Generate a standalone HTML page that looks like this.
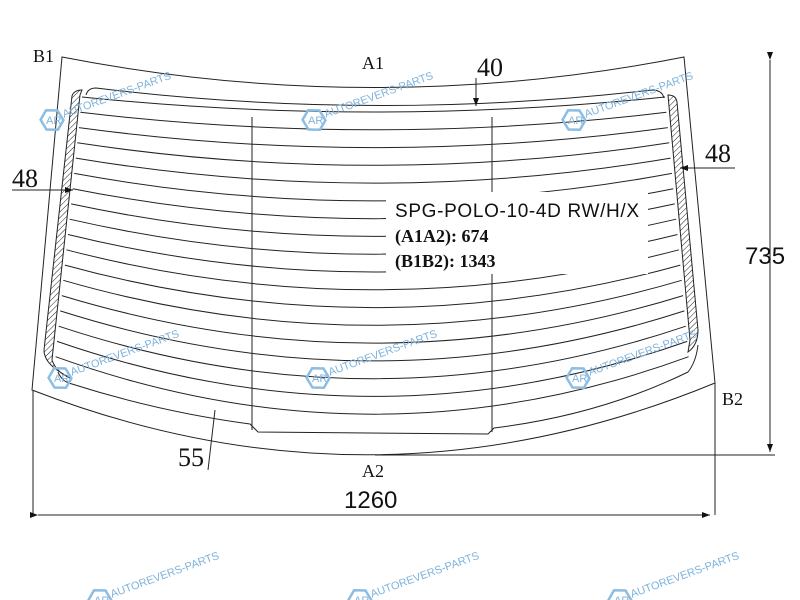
<!DOCTYPE html>
<html><head><style>
html,body{margin:0;padding:0;background:#fff;}
svg{display:block}
.s{font-family:"Liberation Serif",serif;fill:#111}
.a{font-family:"Liberation Sans",sans-serif;fill:#111}
.w{font-family:"Liberation Sans",sans-serif;fill:#7fb3dd;font-size:11px}
</style></head><body>
<svg width="800" height="600" viewBox="0 0 800 600" xmlns="http://www.w3.org/2000/svg">
<defs>
<pattern id="h" width="4" height="4" patternUnits="userSpaceOnUse" patternTransform="rotate(45)">
<line x1="0" y1="0" x2="0" y2="4" stroke="#222" stroke-width="1"/></pattern>
<marker id="ar" markerWidth="8" markerHeight="6" refX="8" refY="3" orient="auto"><path d="M0,0 L8,3 L0,6z" fill="#111"/></marker>
<g id="wm"><polygon points="0,-11 10,-5.5 10,5.5 0,11 -10,5.5 -10,-5.5" fill="none" stroke="#8cbde3" stroke-width="2.5" transform="rotate(30)"/><text class="w" x="-6" y="4" font-size="10">AR</text><text class="w" x="12" y="2" transform="rotate(-20)">AUTOREVERS-PARTS</text></g>
</defs>
<g fill="none" stroke="#222" stroke-width="1">
<path d="M62 57 Q375 118 684 57 L715 383 Q375 523 32 390 Z"/>
<path d="M33 390 V515 M715 383 V515"/>
<path d="M375 455 H775"/>
<path d="M770 60 V452" marker-start="url(#ar)" marker-end="url(#ar)" />
<path d="M38 515 H710" marker-start="url(#ar)" marker-end="url(#ar)"/>
<path d="M72 96 Q74 90 82 90 L80 95 L52 360 Q56 372 70 378 L60 372 Q44 362 44 350 Z" fill="url(#h)"/>
<path d="M668 95 Q676 95 677 102 L698 330 Q698 345 688 352 L690 340 Z" fill="url(#h)"/>
<path d="M86 95 Q88 88 96 88 Q375 122 652 90 Q662 90 664 98"/>
<path d="M58 372 Q62 382 72 384 Q160 412 250 424 L258 432 L488 434 L494 428 Q600 415 688 372 Q696 362 698 345"/>
<path d="M82 97 Q375 127 665 97"/>
<path d="M80.4 112.3 Q375 147.3 666.4 112.3"/>
<path d="M78.9 127.6 Q375 167.6 667.8 127.6"/>
<path d="M77.3 142.8 Q375 187.8 669.2 142.8"/>
<path d="M75.8 158.1 Q375 208.1 670.6 158.1"/>
<path d="M74.2 173.4 Q375 228.4 671.9 173.4"/>
<path d="M72.7 188.7 Q375 248.7 673.3 188.7"/>
<path d="M71.1 203.9 Q375 268.9 674.7 203.9"/>
<path d="M69.6 219.2 Q375 289.2 676.1 219.2"/>
<path d="M68 234.5 Q375 309.5 677.5 234.5"/>
<path d="M66.4 249.8 Q375 329.8 678.9 249.8"/>
<path d="M64.9 265.1 Q375 350.1 680.3 265.1"/>
<path d="M63.3 280.3 Q375 370.3 681.7 280.3"/>
<path d="M61.8 295.6 Q375 390.6 683.1 295.6"/>
<path d="M60.2 310.9 Q375 410.9 684.4 310.9"/>
<path d="M58.7 326.2 Q375 431.2 685.8 326.2"/>
<path d="M57.1 341.4 Q375 451.4 687.2 341.4"/>
<path d="M55.6 356.7 Q375 471.7 688.6 356.7"/>
<path d="M252 117 V430 M492 117 V432"/>
<path d="M476 78 V106" marker-end="url(#ar)"/>
<path d="M12 190 H73" marker-end="url(#ar)"/>
<path d="M735 168 H680" marker-end="url(#ar)"/>
<path d="M208 470 L215 410"/>
</g>
<rect x="386" y="192" width="262" height="82" fill="#fff"/>
<text class="s" x="33" y="62" font-size="18">B1</text>
<text class="s" x="362" y="69" font-size="18">A1</text>
<text class="s" x="477" y="76" font-size="26">40</text>
<text class="s" x="12" y="187" font-size="26">48</text>
<text class="s" x="705" y="162" font-size="26">48</text>
<text class="a" x="745" y="264" font-size="24">735</text>
<text class="s" x="178" y="466" font-size="26">55</text>
<text class="s" x="362" y="477" font-size="18">A2</text>
<text class="a" x="344" y="508" font-size="24">1260</text>
<text class="s" x="722" y="405" font-size="18">B2</text>
<text class="a" x="395" y="217" font-size="19" textLength="244">SPG-POLO-10-4D RW/H/X</text>
<text class="s" x="395" y="242" font-size="18" font-weight="bold">(A1A2): 674</text>
<text class="s" x="395" y="267" font-size="18" font-weight="bold">(B1B2): 1343</text>
<use href="#wm" x="52" y="120"/>
<use href="#wm" x="314" y="120"/>
<use href="#wm" x="574" y="120"/>
<use href="#wm" x="60" y="378"/>
<use href="#wm" x="318" y="378"/>
<use href="#wm" x="578" y="378"/>
<use href="#wm" x="100" y="600"/>
<use href="#wm" x="360" y="600"/>
<use href="#wm" x="620" y="600"/>
</svg>
</body></html>
